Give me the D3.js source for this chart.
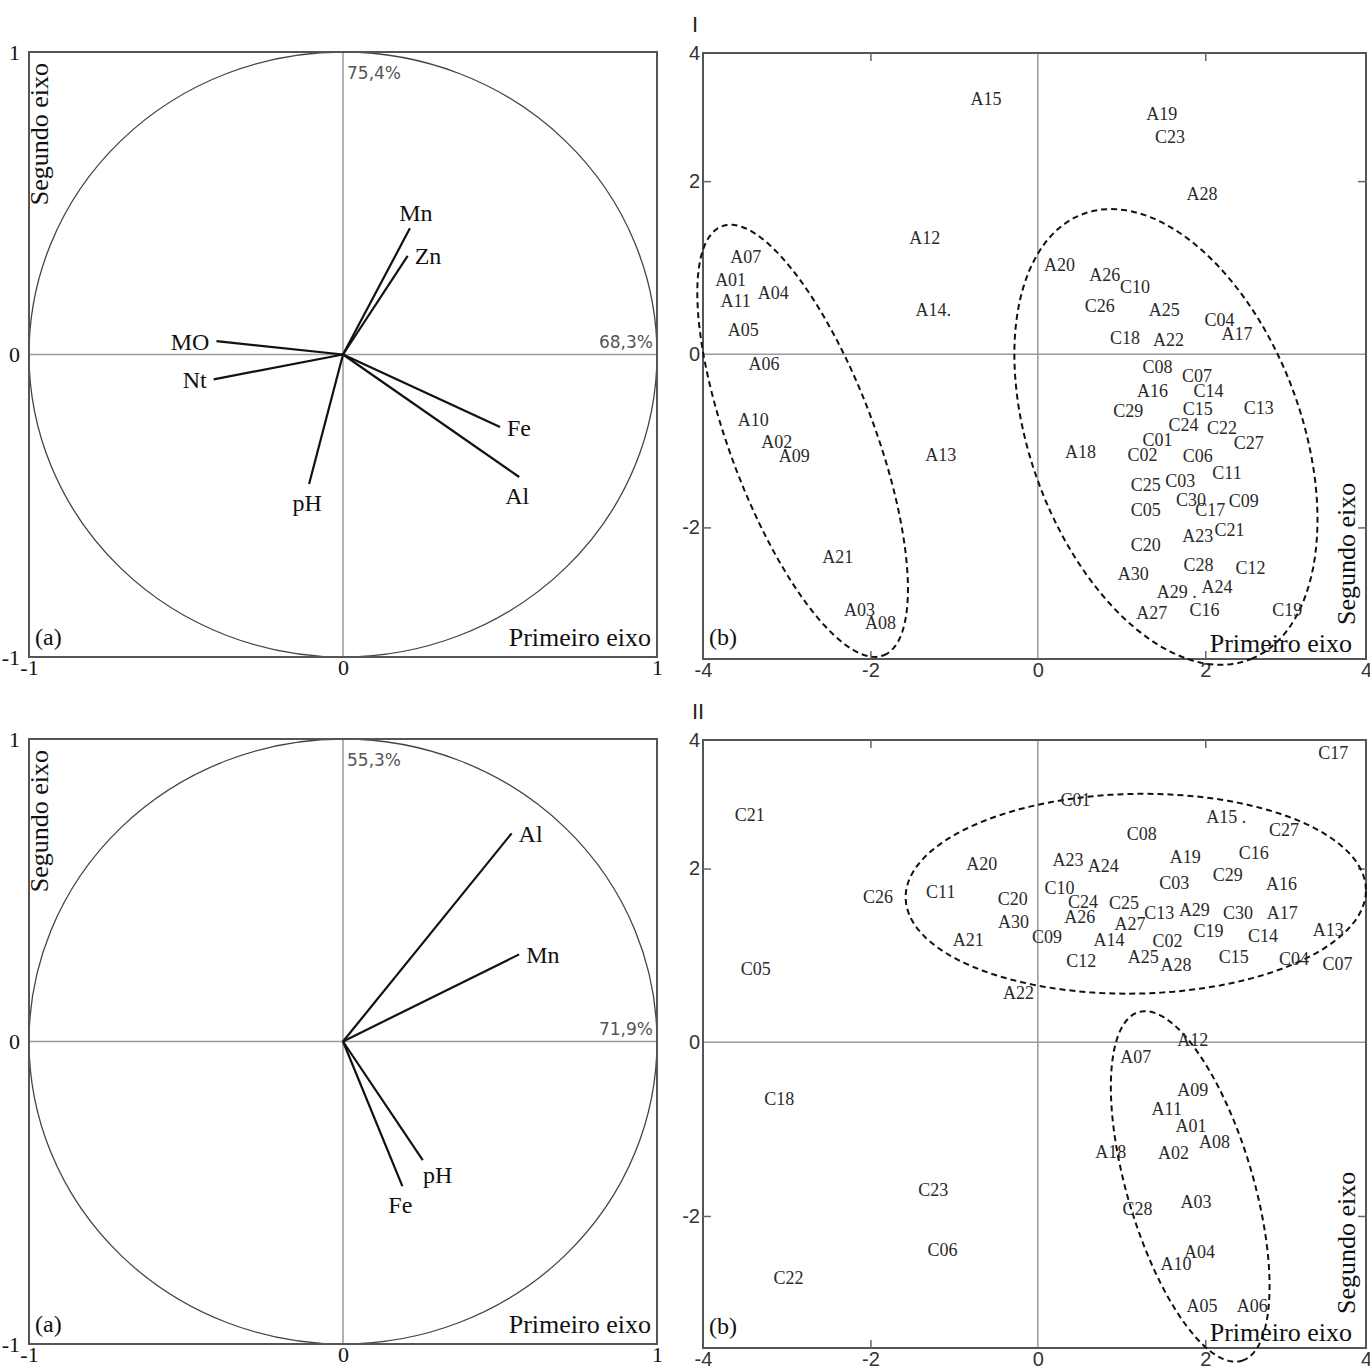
<!DOCTYPE html>
<html>
<head>
<meta charset="utf-8">
<script src="https://cdn.jsdelivr.net/npm/d3@7"></script>
<style>
  body { margin: 0; background: #fff; }
  svg { display: block; }
</style>
</head>
<body>
<div id="chart"></div>
<script>
const width = 1370;
const height = 1367;

// ---- correlation circle I (top left)
const circle1Vars = ["Mn", "Zn", "MO", "Nt", "Fe", "Al", "pH"];
const circle1X = [0.213, 0.206, -0.403, -0.412, 0.500, 0.561, -0.108];
const circle1Y = [0.417, 0.326, 0.044, -0.082, -0.240, -0.405, -0.428];
const circle1Side = ["top", "right", "left", "left", "right", "bottom", "bottom"];
const circle1Pct = ["75,4%", "68,3%"];

// ---- correlation circle II (bottom left)
const circle2Vars = ["Al", "Mn", "pH", "Fe"];
const circle2X = [0.537, 0.561, 0.254, 0.189];
const circle2Y = [0.688, 0.288, -0.392, -0.478];
const circle2Side = ["right", "right", "bottomright", "bottom"];
const circle2Pct = ["55,3%", "71,9%"];

const circleTicks = [-1, 0, 1];

// ---- scatter I (top right)
const scatter1Names = ["A01","A02","A03","A04","A05","A06","A07","A08","A09","A10",
  "A11","A12","A13","A14.","A15","A16","A17","A18","A19","A20",
  "A21","A22","A23","A24","A25","A26","A27","A28","A29 .","A30",
  "C01","C02","C03","C04","C05","C06","C07","C08","C09","C10",
  "C11","C12","C13","C14","C15","C16","C17","C18","C19","C20",
  "C21","C22","C23","C24","C25","C26","C27","C28","C29","C30"];
const scatter1X = [-3.67,-3.12,-2.13,-3.16,-3.52,-3.27,-3.49,-1.88,-2.91,-3.40,
  -3.61,-1.35,-1.16,-1.25,-0.62,1.37,2.38,0.51,1.48,0.26,
  -2.39,1.56,1.91,2.14,1.51,0.80,1.36,1.96,1.66,1.14,
  1.43,1.25,1.70,2.17,1.29,1.91,1.90,1.43,2.46,1.16,
  2.26,2.54,2.64,2.04,1.91,1.99,2.06,1.04,2.98,1.29,
  2.29,2.20,1.58,1.74,1.29,0.74,2.52,1.92,1.08,1.83];
const scatter1Y = [0.86,-1.01,-2.95,0.71,0.28,-0.11,1.13,-3.10,-1.17,-0.76,
  0.62,1.35,-1.16,0.51,2.95,-0.42,0.24,-1.13,2.78,1.03,
  -2.34,0.17,-2.09,-2.69,0.51,0.92,-2.99,1.85,-2.74,-2.54,
  -0.99,-1.16,-1.46,0.40,-1.80,-1.17,-0.25,-0.14,-1.69,0.78,
  -1.37,-2.47,-0.62,-0.42,-0.63,-2.95,-1.80,0.19,-2.95,-2.20,
  -2.03,-0.85,2.51,-0.81,-1.51,0.56,-1.02,-2.43,-0.65,-1.68];
// dashed groups: centre x, centre y, semi-axes, angle (degrees, data space)
const groups1 = [
  {cx: -2.81, cy: -1.00, a: 2.66, b: 0.86, angle: -68.6},
  {cx: 1.53, cy: -0.955, a: 2.76, b: 1.61, angle: -68.3}
];

// ---- scatter II (bottom right)
const scatter2Names = ["A01","A02","A03","A04","A05","A06","A07","A08","A09","A10",
  "A11","A12","A13","A14","A15 .","A16","A17","A18","A19","A20",
  "A21","A22","A23","A24","A25","A26","A27","A28","A29","A30",
  "C01","C02","C03","C04","C05","C06","C07","C08","C09","C10",
  "C11","C12","C13","C14","C15","C16","C17","C18","C19","C20",
  "C21","C22","C23","C24","C25","C26","C27","C28","C29","C30"];
const scatter2X = [1.83,1.62,1.89,1.93,1.96,2.56,1.17,2.11,1.85,1.65,
  1.54,1.85,3.47,0.85,2.25,2.91,2.92,0.87,1.76,-0.67,
  -0.83,-0.23,0.36,0.78,1.26,0.50,1.10,1.65,1.87,-0.29,
  0.45,1.55,1.63,3.06,-3.37,-1.14,3.58,1.24,0.11,0.26,
  -1.16,0.52,1.45,2.69,2.34,2.58,3.53,-3.09,2.04,-0.30,
  -3.44,-2.98,-1.25,0.54,1.03,-1.91,2.94,1.19,2.27,2.39];
const scatter2Y = [-0.96,-1.27,-1.84,-2.41,-3.03,-3.03,-0.17,-1.15,-0.55,-2.55,
  -0.76,0.03,1.30,1.18,2.60,1.83,1.49,-1.26,2.14,2.06,
  1.18,0.57,2.10,2.03,0.99,1.45,1.37,0.89,1.53,1.39,
  2.79,1.17,1.84,0.96,0.85,-2.39,0.90,2.40,1.22,1.78,
  1.73,0.94,1.49,1.23,0.99,2.18,3.33,-0.65,1.29,1.65,
  2.62,-2.71,-1.70,1.62,1.61,1.68,2.45,-1.92,1.93,1.49];
const groups2 = [
  {cx: 1.17, cy: 1.71, a: 2.75, b: 1.15, angle: 1},
  {cx: 1.82, cy: -1.66, a: 2.10, b: 0.75, angle: -72.8}
];

const scatterXTicks = [-4, -2, 0, 2, 4];
const scatterYTicks = [-2, 0, 2, 4];
const innerTicks = [-2, 2];

const serif = "'Liberation Serif', 'Times New Roman', serif";
const sans = "'Liberation Sans', Arial, sans-serif";
const plain = d => String(d);   // "-1", "0", "4" as printed

const svg = d3.select("#chart")
  .append("svg")
  .attr("width", width)
  .attr("height", height);

// frames of the four panels
const boxTL = {x0: 29, x1: 657, y0: 52, y1: 657};
const boxTR = {x0: 703, x1: 1366, y0: 53, y1: 659};
const boxBL = {x0: 29, x1: 657, y0: 739, y1: 1344};
const boxBR = {x0: 703, x1: 1366, y0: 740, y1: 1348};

function frame(g, box) {
  g.append("rect")
    .attr("x", box.x0).attr("y", box.y0)
    .attr("width", box.x1 - box.x0).attr("height", box.y1 - box.y0)
    .attr("fill", "none").attr("stroke", "#555").attr("stroke-width", 2);
}

function zeroLines(g, x, y) {
  const [xa, xb] = x.range();
  const [ya, yb] = y.range();
  g.append("line").attr("x1", xa).attr("x2", xb).attr("y1", y(0)).attr("y2", y(0))
    .attr("stroke", "#999").attr("stroke-width", 1.5);
  g.append("line").attr("x1", x(0)).attr("x2", x(0)).attr("y1", ya).attr("y2", yb)
    .attr("stroke", "#999").attr("stroke-width", 1.5);
}

function styleAxis(sel, font, size, color) {
  sel.select(".domain").remove();
  sel.selectAll("text").attr("font-family", font).attr("font-size", size).attr("fill", color);
}

function drawCircle(box, vars, xs, ys, sides, pct) {
  const g = svg.append("g");
  const x = d3.scaleLinear().domain([-1, 1]).range([box.x0, box.x1]);
  const y = d3.scaleLinear().domain([-1, 1]).range([box.y1, box.y0]);

  zeroLines(g, x, y);

  g.append("ellipse")
    .attr("cx", x(0)).attr("cy", y(0))
    .attr("rx", x(1) - x(0)).attr("ry", y(0) - y(1))
    .attr("fill", "none").attr("stroke", "#444").attr("stroke-width", 1.3);

  frame(g, box);

  g.append("g")
    .attr("transform", `translate(0,${box.y1})`)
    .call(d3.axisBottom(x).tickValues(circleTicks).tickFormat(plain).tickSize(0).tickPadding(2))
    .call(s => styleAxis(s, serif, 22, "#111"));
  g.append("g")
    .attr("transform", `translate(${box.x0},0)`)
    .call(d3.axisLeft(y).tickValues(circleTicks).tickFormat(plain).tickSize(0).tickPadding(9))
    .call(s => styleAxis(s, serif, 22, "#111"));

  // vectors
  g.selectAll(".vec")
    .data(vars)
    .enter()
    .append("line")
    .attr("class", "vec")
    .attr("x1", x(0)).attr("y1", y(0))
    .attr("x2", (d, i) => x(xs[i]))
    .attr("y2", (d, i) => y(ys[i]))
    .attr("stroke", "#111").attr("stroke-width", 2.2);

  const off = {
    top: [6, -16, "middle"],
    right: [7, 0, "start"],
    left: [-7, 0, "end"],
    bottom: [-2, 19, "middle"],
    bottomright: [15, 15, "middle"]
  };
  g.selectAll(".vlab")
    .data(vars)
    .enter()
    .append("text")
    .attr("class", "vlab")
    .attr("x", (d, i) => x(xs[i]) + off[sides[i]][0])
    .attr("y", (d, i) => y(ys[i]) + off[sides[i]][1])
    .attr("dy", "0.35em")
    .attr("text-anchor", (d, i) => off[sides[i]][2])
    .attr("font-family", serif).attr("font-size", 24).attr("fill", "#111")
    .text(d => d);

  // inertia percentages
  g.append("text")
    .attr("x", x(0) + 4).attr("y", box.y0 + 27)
    .attr("font-family", "'DejaVu Sans', Verdana, sans-serif").attr("font-size", 17)
    .attr("fill", "#555").text(pct[0]);
  g.append("text")
    .attr("x", x(1) - 4).attr("y", y(0) - 7)
    .attr("text-anchor", "end")
    .attr("font-family", "'DejaVu Sans', Verdana, sans-serif").attr("font-size", 17)
    .attr("fill", "#555").text(pct[1]);

  g.append("text")
    .attr("transform", `translate(${box.x0 + 19},${box.y0 + 11}) rotate(-90)`)
    .attr("text-anchor", "end")
    .attr("font-family", serif).attr("font-size", 26).attr("fill", "#111")
    .text("Segundo eixo");
  g.append("text")
    .attr("x", box.x1 - 6).attr("y", box.y1 - 11)
    .attr("text-anchor", "end")
    .attr("font-family", serif).attr("font-size", 26).attr("fill", "#111")
    .text("Primeiro eixo");
  g.append("text")
    .attr("x", box.x0 + 6).attr("y", box.y1 - 12)
    .attr("font-family", serif).attr("font-size", 24).attr("fill", "#111")
    .text("(a)");
}

function drawScatter(box, names, xs, ys, groups, roman) {
  const g = svg.append("g");
  const x = d3.scaleLinear().domain([-4, 3.92]).range([box.x0, box.x1]).clamp(true);
  const y = d3.scaleLinear().domain([-3.52, 3.48]).range([box.y1, box.y0]).clamp(true);

  zeroLines(g, x, y);
  frame(g, box);

  // short inner ticks on the four sides
  const tickStyle = s => {
    s.select(".domain").remove();
    s.selectAll("line").attr("stroke", "#666").attr("stroke-width", 1.5);
  };
  g.append("g").attr("transform", `translate(0,${box.y0})`)
    .call(d3.axisTop(x).tickValues(innerTicks).tickSize(-8).tickFormat("")).call(tickStyle);
  g.append("g").attr("transform", `translate(0,${box.y1})`)
    .call(d3.axisBottom(x).tickValues(innerTicks).tickSize(-8).tickFormat("")).call(tickStyle);
  g.append("g").attr("transform", `translate(${box.x0},0)`)
    .call(d3.axisLeft(y).tickValues(innerTicks).tickSize(-8).tickFormat("")).call(tickStyle);
  g.append("g").attr("transform", `translate(${box.x1},0)`)
    .call(d3.axisRight(y).tickValues(innerTicks).tickSize(-8).tickFormat("")).call(tickStyle);

  g.append("g")
    .attr("transform", `translate(0,${box.y1})`)
    .call(d3.axisBottom(x).tickValues(scatterXTicks).tickFormat(plain).tickSize(0).tickPadding(4))
    .call(s => styleAxis(s, sans, 20, "#333"));
  g.append("g")
    .attr("transform", `translate(${box.x0},0)`)
    .call(d3.axisLeft(y).tickValues(scatterYTicks).tickFormat(plain).tickSize(0).tickPadding(3))
    .call(s => styleAxis(s, sans, 20, "#333"));

  // dashed groups, traced through unclamped copies of the scales
  const xu = x.copy().clamp(false);
  const yu = y.copy().clamp(false);
  g.selectAll(".grp")
    .data(groups)
    .enter()
    .append("path")
    .attr("class", "grp")
    .attr("d", e => {
      const phi = e.angle * Math.PI / 180;
      const pts = d3.range(0, 361, 3).map(t => {
        const r = t * Math.PI / 180;
        const u = e.a * Math.cos(r), v = e.b * Math.sin(r);
        return [e.cx + u * Math.cos(phi) - v * Math.sin(phi),
                e.cy + u * Math.sin(phi) + v * Math.cos(phi)];
      });
      return d3.line().x(p => xu(p[0])).y(p => yu(p[1]))(pts);
    })
    .attr("fill", "none").attr("stroke", "#111").attr("stroke-width", 2)
    .attr("stroke-dasharray", "6,4");

  g.selectAll(".pt")
    .data(names)
    .enter()
    .append("text")
    .attr("class", "pt")
    .attr("x", (d, i) => x(xs[i]))
    .attr("y", (d, i) => y(ys[i]))
    .attr("dy", "0.35em")
    .attr("text-anchor", "middle")
    .attr("font-family", serif).attr("font-size", 18).attr("fill", "#2a2a2a")
    .text(d => d);

  g.append("text")
    .attr("x", box.x0 + 6).attr("y", box.y1 - 14)
    .attr("font-family", serif).attr("font-size", 24).attr("fill", "#111")
    .text("(b)");
  g.append("text")
    .attr("x", box.x1 - 14).attr("y", box.y1 - 7)
    .attr("text-anchor", "end")
    .attr("font-family", serif).attr("font-size", 26).attr("fill", "#111")
    .text("Primeiro eixo");
  g.append("text")
    .attr("transform", `translate(${box.x1 - 11},${box.y1 - 34}) rotate(-90)`)
    .attr("font-family", serif).attr("font-size", 26).attr("fill", "#111")
    .text("Segundo eixo");
  g.append("text")
    .attr("x", box.x0 - 11).attr("y", box.y0 - 21)
    .attr("font-family", sans).attr("font-size", 22).attr("fill", "#222")
    .text(roman);
}

drawCircle(boxTL, circle1Vars, circle1X, circle1Y, circle1Side, circle1Pct);
drawScatter(boxTR, scatter1Names, scatter1X, scatter1Y, groups1, "I");
drawCircle(boxBL, circle2Vars, circle2X, circle2Y, circle2Side, circle2Pct);
drawScatter(boxBR, scatter2Names, scatter2X, scatter2Y, groups2, "II");
</script>
</body>
</html>
